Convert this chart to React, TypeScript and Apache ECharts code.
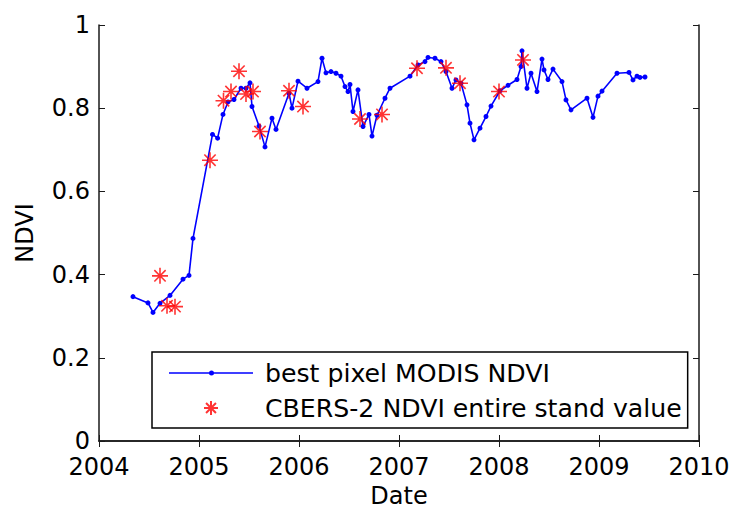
import React, { useEffect, useRef } from "react";
import * as echarts from "echarts";

const modisDates = [
  2004.34, 2004.49, 2004.54, 2004.61, 2004.71, 2004.84, 2004.9, 2004.94, 2005.135, 2005.186,
  2005.24, 2005.29, 2005.35, 2005.42, 2005.47, 2005.51, 2005.53, 2005.6, 2005.66, 2005.73,
  2005.77, 2005.9, 2005.93, 2005.99, 2006.08, 2006.19, 2006.23, 2006.27, 2006.32, 2006.37,
  2006.42, 2006.46, 2006.49, 2006.51, 2006.54, 2006.59, 2006.64, 2006.7, 2006.73, 2006.78,
  2006.86, 2006.91, 2007.11, 2007.19, 2007.26, 2007.29, 2007.36, 2007.42, 2007.47, 2007.53,
  2007.57, 2007.62, 2007.68, 2007.71, 2007.75, 2007.81, 2007.87, 2007.92, 2008.01, 2008.09,
  2008.18, 2008.22, 2008.23, 2008.28, 2008.32, 2008.38, 2008.43, 2008.45, 2008.49, 2008.54,
  2008.63, 2008.67, 2008.72, 2008.88, 2008.94, 2008.99, 2009.03, 2009.18, 2009.3, 2009.34,
  2009.38, 2009.41, 2009.46,
];
const modisNdvi = [
  0.347, 0.332, 0.309, 0.331, 0.35, 0.389, 0.398, 0.487, 0.737, 0.728,
  0.785, 0.815, 0.821, 0.848, 0.848, 0.861, 0.804, 0.757, 0.707, 0.776,
  0.749, 0.836, 0.8, 0.865, 0.848, 0.864, 0.92, 0.885, 0.888, 0.884,
  0.877, 0.852, 0.84, 0.857, 0.792, 0.844, 0.756, 0.785, 0.733, 0.783,
  0.824, 0.848, 0.877, 0.904, 0.912, 0.922, 0.92, 0.912, 0.888, 0.848,
  0.868, 0.86, 0.808, 0.764, 0.724, 0.752, 0.78, 0.805, 0.842, 0.855,
  0.869, 0.9, 0.938, 0.848, 0.884, 0.84, 0.918, 0.892, 0.869, 0.894,
  0.864, 0.82, 0.796, 0.824, 0.778, 0.829, 0.841, 0.884, 0.886, 0.868,
  0.877, 0.874, 0.875,
];

const cbersDates = [
  2004.61, 2004.68, 2004.76, 2005.11, 2005.245, 2005.32, 2005.4, 2005.47, 2005.54, 2005.61,
  2005.9, 2006.04, 2006.61, 2006.83, 2007.18, 2007.47, 2007.61, 2008.0, 2008.24,
];
const cbersNdvi = [
  0.397, 0.325, 0.323, 0.675, 0.818, 0.84, 0.889, 0.834, 0.84, 0.744,
  0.842, 0.804, 0.774, 0.785, 0.896, 0.897, 0.86, 0.84, 0.916,
];

const xTicks = [2004, 2005, 2006, 2007, 2008, 2009, 2010];
const seriesNames = ["best pixel MODIS NDVI", "CBERS-2 NDVI entire stand value"];

const FONT = "DejaVu Sans";
const STAR =
  "path://M8 0L8 16M0 8L16 8M2.34 2.34L13.66 13.66M13.66 2.34L2.34 13.66";
const LINE_ICON =
  "path://M0 1.7L84 1.7L84 3.3L0 3.3Z M45 2.5A2.5 2.5 0 1 1 40 2.5A2.5 2.5 0 1 1 45 2.5Z";

export default function App() {
  const ref = useRef<HTMLDivElement>(null);
  useEffect(() => {
    if (!ref.current) return;
    const chart = echarts.init(ref.current, null, { renderer: "svg" });
    const axisLine = { show: true, lineStyle: { color: "#1a1a1a", width: 1.5 } };
    const tick = { show: true, inside: true, length: 6, lineStyle: { color: "#1a1a1a", width: 1 } };
    const modisData = modisDates.map((d, i) => [d, modisNdvi[i]]);
    const cbersData = cbersDates.map((d, i) => [d, cbersNdvi[i]]);
    chart.setOption({
      animation: false,
      backgroundColor: "#ffffff",
      textStyle: { fontFamily: FONT },
      grid: {
        left: 99,
        right: 33,
        top: 25,
        bottom: 68,
        containLabel: false,
        outerBoundsMode: "none",
      },
      xAxis: [
        {
          type: "value",
          position: "bottom",
          min: xTicks[0],
          max: xTicks[xTicks.length - 1],
          interval: 1,
          axisLine,
          axisTick: tick,
          splitLine: { show: false },
          axisLabel: {
            fontSize: 24,
            lineHeight: 18,
            fontFamily: FONT,
            color: "#000",
            margin: 17,
            formatter: (v: number) => String(Math.round(v)),
          },
          name: "Date",
          nameLocation: "middle",
          nameGap: 44,
          nameTextStyle: { fontSize: 24, lineHeight: 18, fontFamily: FONT, color: "#000" },
        },
        {
          type: "value",
          position: "top",
          min: xTicks[0],
          max: xTicks[xTicks.length - 1],
          interval: 1,
          axisLine,
          axisTick: tick,
          splitLine: { show: false },
          axisLabel: { show: false },
        },
      ],
      yAxis: [
        {
          type: "value",
          position: "left",
          min: 0,
          max: 1,
          interval: 0.2,
          axisLine,
          axisTick: tick,
          splitLine: { show: false },
          axisLabel: {
            fontSize: 24,
            lineHeight: 18,
            fontFamily: FONT,
            color: "#000",
            margin: 9,
            formatter: (v: number) => String(Math.round(v * 10) / 10),
          },
          name: "NDVI",
          nameLocation: "middle",
          nameGap: 62,
          nameRotate: 90,
          nameTextStyle: { fontSize: 24, fontFamily: FONT, color: "#000" },
        },
        {
          type: "value",
          position: "right",
          min: 0,
          max: 1,
          interval: 0.2,
          axisLine,
          axisTick: tick,
          splitLine: { show: false },
          axisLabel: { show: false },
        },
      ],
      legend: {
        orient: "vertical",
        left: 152,
        top: 352,
        padding: [7, 6, 6, 17],
        itemWidth: 84,
        itemHeight: 14,
        itemGap: 7,
        borderColor: "#000",
        borderWidth: 1.5,
        backgroundColor: "#ffffff",
        selectedMode: false,
        textStyle: {
          fontSize: 25.2,
          fontFamily: FONT,
          color: "#000",
          lineHeight: 28,
          padding: [0, 0, 0, 7],
        },
        data: [
          { name: seriesNames[0], icon: LINE_ICON },
          { name: seriesNames[1] },
        ],
      },
      series: [
        {
          name: seriesNames[0],
          type: "line",
          xAxisIndex: 0,
          yAxisIndex: 0,
          data: modisData,
          symbol: "circle",
          symbolSize: 5,
          showSymbol: true,
          color: "#0000ff",
          itemStyle: { color: "#0000ff", borderWidth: 0 },
          lineStyle: { color: "#0000ff", width: 1.6 },
          z: 2,
        },
        {
          name: seriesNames[1],
          type: "scatter",
          xAxisIndex: 0,
          yAxisIndex: 0,
          data: cbersData,
          symbol: STAR,
          symbolSize: 16,
          color: "#ff0000",
          itemStyle: { color: "rgba(0,0,0,0)", borderColor: "#ff0000", borderWidth: 1.6 },
          z: 3,
        },
      ],
    });
    return () => chart.dispose();
  }, []);
  return (
    <div
      ref={ref}
      style={{ position: "fixed", left: 0, top: 0, width: 732, height: 509, background: "#fff" }}
    />
  );
}
